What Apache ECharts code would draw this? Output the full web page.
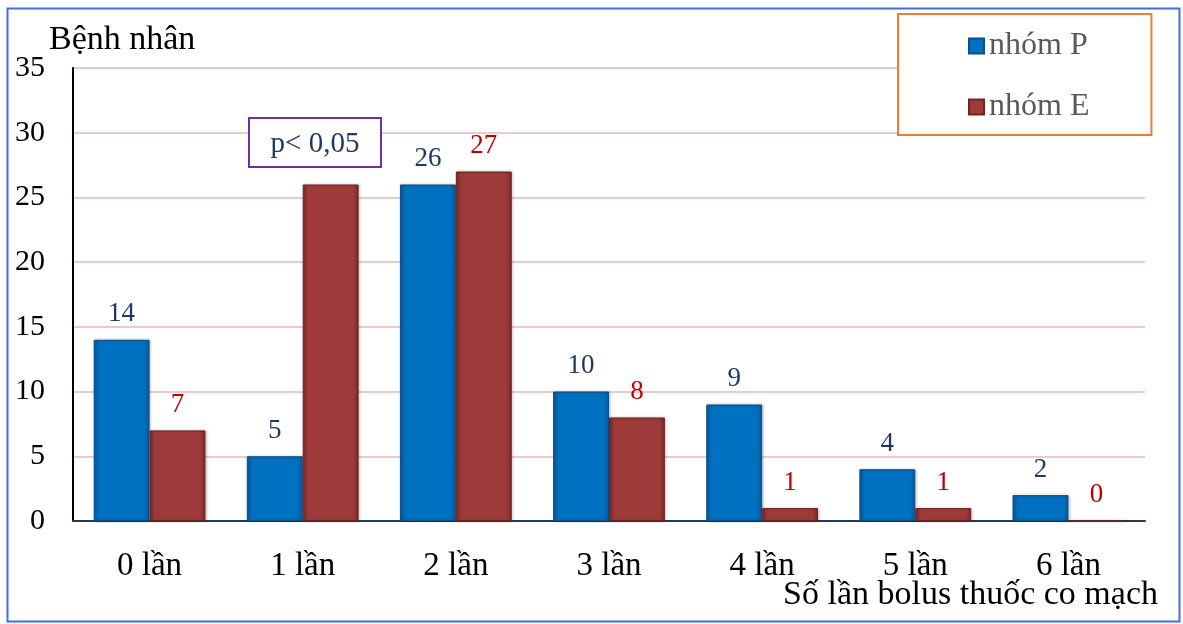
<!DOCTYPE html>
<html>
<head>
    <meta charset="utf-8">
    <title>Số lần bolus thuốc co mạch</title>
    <script src="https://cdn.jsdelivr.net/npm/echarts@6/dist/echarts.min.js"></script>
    <style>
        html, body { margin: 0; padding: 0; background: #fff; }
        #chartContainer {
            width: 1183px;
            height: 624px;
        }
    </style>
</head>
<body>
    <div id="chartContainer"></div>

    <script>
        // dữ liệu
        const categories = ['0 lần', '1 lần', '2 lần', '3 lần', '4 lần', '5 lần', '6 lần'];
        const groupP = [14, 5, 26, 10, 9, 4, 2];
        const groupE = [7, 26, 27, 8, 1, 1, 0];
        const yTicks = { min: 0, max: 35, interval: 5 };

        const serif = '"Liberation Serif", "DejaVu Serif", serif';

        // hiệu ứng bevel đơn giản bằng gradient ngang
        function bevel(mid, dark) {
            return new echarts.graphic.LinearGradient(0, 0, 1, 0, [
                { offset: 0, color: dark },
                { offset: 0.1, color: mid },
                { offset: 0.9, color: mid },
                { offset: 1, color: dark }
            ]);
        }

        const chart = echarts.init(document.getElementById('chartContainer'));

        const option = {
            animation: false,
            backgroundColor: '#fff',
            grid: { left: 73, right: 38, top: 68, bottom: 103 },
            legend: {
                orient: 'vertical',
                left: 898,
                top: 14,
                padding: [16, 62, 12, 70],
                itemGap: 29,
                itemWidth: 15,
                itemHeight: 15,
                icon: 'rect',
                backgroundColor: '#fff',
                borderColor: '#ed7d31',
                borderWidth: 2,
                textStyle: { fontFamily: serif, fontSize: 32, color: '#595959' },
                data: ['nhóm P', 'nhóm E']
            },
            xAxis: {
                type: 'category',
                data: categories,
                axisLine: { lineStyle: { color: '#1f3864', width: 2 } },
                axisTick: { show: false },
                axisLabel: { fontFamily: serif, fontSize: 33, color: '#000', margin: 29 }
            },
            yAxis: {
                type: 'value',
                min: yTicks.min,
                max: yTicks.max,
                interval: yTicks.interval,
                axisLine: { show: true, lineStyle: { color: '#000', width: 2 } },
                axisTick: { show: false },
                axisLabel: { fontFamily: serif, fontSize: 30, color: '#000', margin: 28 },
                splitLine: { lineStyle: { color: '#e6b9b8', width: 1.5 } }
            },
            series: [
                {
                    name: 'nhóm P',
                    type: 'bar',
                    data: groupP,
                    barGap: '0%',
                    barCategoryGap: '27%',
                    itemStyle: {
                        color: bevel('#0070c0', '#0b5a99'),
                        borderColor: '#0a4f86',
                        borderWidth: 1,
                        shadowColor: 'rgba(0,0,0,0.25)',
                        shadowBlur: 3,
                        shadowOffsetX: 1
                    },
                    label: {
                        show: true,
                        position: 'top',
                        distance: 12,
                        fontFamily: serif,
                        fontSize: 27,
                        color: '#1f3864'
                    }
                },
                {
                    name: 'nhóm E',
                    type: 'bar',
                    data: groupE,
                    itemStyle: {
                        color: bevel('#9e3b3a', '#7a2a29'),
                        borderColor: '#6e2423',
                        borderWidth: 1,
                        shadowColor: 'rgba(0,0,0,0.25)',
                        shadowBlur: 3,
                        shadowOffsetX: 1
                    },
                    label: {
                        show: true,
                        position: 'top',
                        distance: 12,
                        fontFamily: serif,
                        fontSize: 27,
                        color: '#c00000'
                    }
                }
            ],
            graphic: [
                {
                    type: 'rect',
                    left: 5, top: 6,
                    shape: { width: 1172, height: 613 },
                    style: { fill: 'none', stroke: '#3d6ee8', lineWidth: 2 },
                    silent: true
                },
                {
                    type: 'text',
                    left: 49, top: 23,
                    style: { text: 'Bệnh nhân', fontFamily: serif, fontSize: 34, fill: '#000' }
                },
                {
                    type: 'text',
                    right: 25, top: 578,
                    style: { text: 'Số lần bolus thuốc co mạch', fontFamily: serif, fontSize: 34, fill: '#000' }
                },
                {
                    type: 'group',
                    left: 248, top: 117,
                    z: 100,
                    children: [
                        {
                            type: 'rect',
                            z: 100,
                            shape: { width: 132, height: 49 },
                            style: { fill: '#fff', stroke: '#7030a0', lineWidth: 2 }
                        },
                        {
                            type: 'text',
                            z: 101,
                            x: 66, y: 26,
                            style: {
                                text: 'p< 0,05', fontFamily: serif, fontSize: 29, fill: '#1f3864',
                                align: 'center', verticalAlign: 'middle'
                            }
                        }
                    ]
                }
            ]
        };

        chart.setOption(option);
        window.addEventListener('resize', () => chart.resize());
    </script>
</body>
</html>
